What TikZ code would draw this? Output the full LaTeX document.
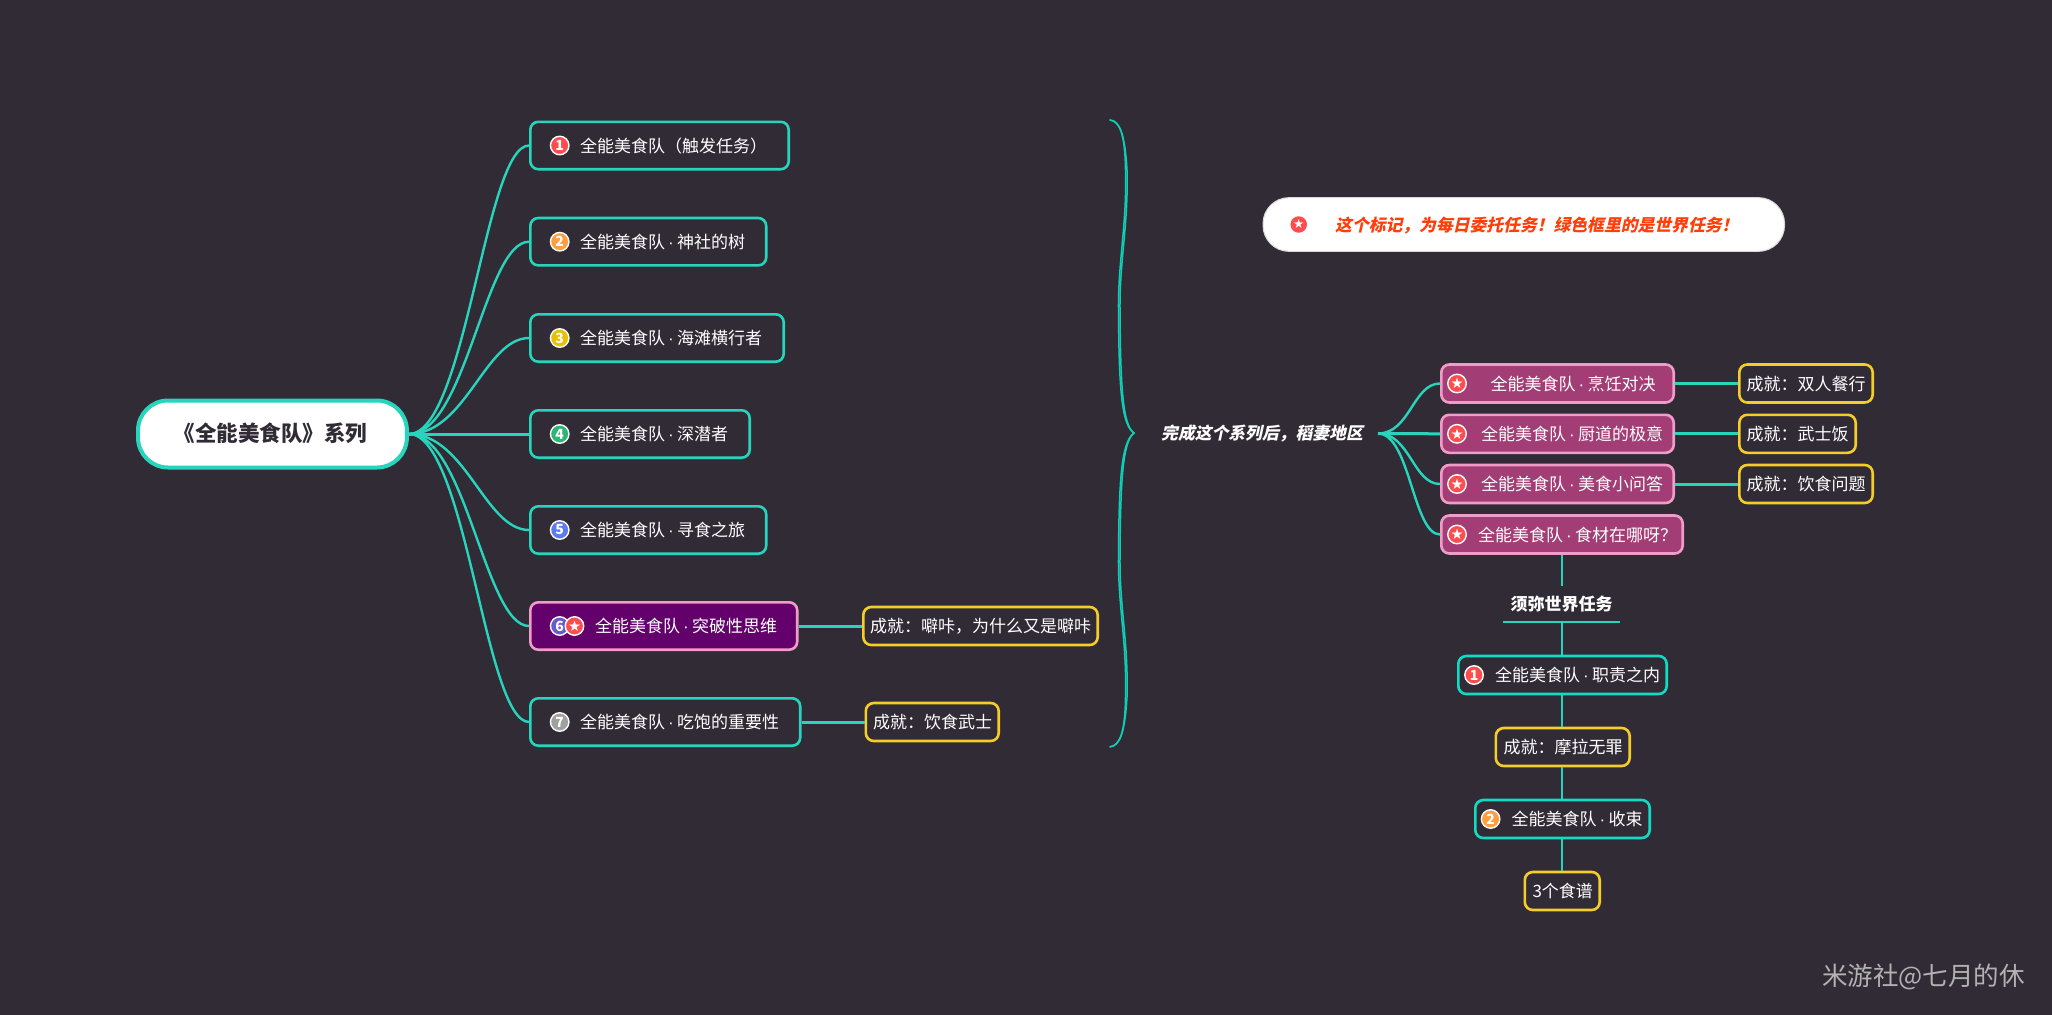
\documentclass[tikz,border=0pt]{standalone}
\usepackage{fontspec}
\usetikzlibrary{calc}
\setmainfont{Noto Sans CJK SC}
\newfontfamily\slantfont[FakeSlant=0.22]{Noto Sans CJK SC}
\newfontfamily\symfont{DejaVu Sans}
\newfontfamily\dotfont{Liberation Sans}
\newcommand\md{\makebox[12bp][c]{\dotfont ·}}
\definecolor{bgc}{RGB}{49,43,54}
\definecolor{teal1}{RGB}{40,212,188}
\definecolor{teal2}{RGB}{14,220,196}
\definecolor{teal3}{RGB}{16,205,180}
\definecolor{gold}{RGB}{245,205,42}
\definecolor{pinkb}{RGB}{240,156,200}
\definecolor{purp}{RGB}{100,0,108}
\definecolor{rose}{RGB}{163,61,117}
\definecolor{darkt}{RGB}{49,43,54}
\definecolor{c1}{RGB}{255,77,79}
\definecolor{c2}{RGB}{255,158,64}
\definecolor{c3}{RGB}{232,192,0}
\definecolor{c4}{RGB}{43,182,115}
\definecolor{c5}{RGB}{91,124,240}
\definecolor{c6}{RGB}{106,90,205}
\definecolor{c7}{RGB}{160,160,160}
\tikzset{
 mbase/.style={rectangle,rounded corners=8bp,line width=2.6bp,inner sep=0pt,text=white,
   font=\fontsize{17bp}{20bp}\selectfont,text height=15bp,text depth=2bp,anchor=west},
 tealbox/.style={mbase,draw=teal1,minimum height=47.4bp},
 tealbig/.style={mbase,draw=teal2,minimum height=38bp},
 goldbox/.style={mbase,draw=gold,minimum height=38bp},
 purpbox/.style={mbase,draw=pinkb,fill=purp,minimum height=47.4bp},
 rosebox/.style={mbase,draw=pinkb,fill=rose,minimum height=38bp},
 rootbox/.style={mbase,draw=teal1,fill=white,text=darkt,line width=4bp,rounded corners=30bp,minimum height=67bp,
   font=\fontsize{21.5bp}{24bp}\selectfont\bfseries,text height=18.5bp,text depth=3bp},
 notebox/.style={mbase,draw=white!85!black,line width=1bp,fill=white,text={rgb,255:red,255;green,62;blue,10},rounded corners=26bp,minimum height=53.7bp,
   font=\fontsize{16.8bp}{20bp}\slantfont\bfseries},
 numic/.style={circle,draw=white,line width=1.4bp,minimum size=18.5bp,inner sep=0pt,text=white,
   font=\fontsize{14bp}{14bp}\selectfont\bfseries},
 staric/.style={circle,draw=white,line width=1.4bp,fill=c1,minimum size=18.5bp,inner sep=0pt,text=white,
   font=\fontsize{14.5bp}{14.5bp}\symfont},
 lnk/.style={draw=teal1,line width=2.4bp},
 lnkb/.style={draw=teal1,line width=3bp},
 lnkv/.style={draw=teal1,line width=2.2bp},
 strand/.style={draw=teal3,line width=1.5bp,line cap=round},
 heading/.style={text=white,inner sep=0pt,font=\fontsize{17bp}{20bp}\selectfont\bfseries},
}
% #1 style, #2 name, #3 left, #4 right, #5 centre y, #6 text left, #7 text (edges given as outer edges)
\newcommand\mapbox[7]{%
  \pgfmathsetmacro\mw{#4-#3-2.6}\pgfmathsetmacro\mp{#6-#3-1.3}%
  \node[#1,minimum width=\mw bp] (#2) at (#3,#5) {\makebox[\mw bp][l]{\hspace{\mp bp}#7}};}
\begin{document}
\begin{tikzpicture}[x=1bp,y=-1bp]
\useasboundingbox[fill=bgc] (0,0) rectangle (2052,1015);

% brace
\foreach \d in {0,1.5}{
 \draw[strand] (1110,120) .. controls (1120,121) and (1125,135) .. ({1125.5+\d},170)
   .. controls ({1127+\d},225) and ({1118+\d},260) .. ({1118.5+\d},310)
   .. controls ({1119+\d},385) and ({1121+\d},425) .. (1134,433);
 \draw[strand] (1110,746.8) .. controls (1120,745.8) and (1125,732) .. ({1125.5+\d},697)
   .. controls ({1127+\d},642) and ({1118+\d},607) .. ({1118.5+\d},557)
   .. controls ({1119+\d},482) and ({1121+\d},442) .. (1134,433);
}

% root
\mapbox{rootbox}{root}{136}{407.5}{434}{173}{《全能美食队》系列}
% left column
\mapbox{tealbox}{b1}{529}{790}{145.5}{580}{全能美食队（触发任务）}
\mapbox{tealbox}{b2}{529}{767.5}{241.7}{580}{全能美食队\md 神社的树}
\mapbox{tealbox}{b3}{529}{785}{338}{580}{全能美食队\md 海滩横行者}
\mapbox{tealbox}{b4}{529}{751}{434}{580}{全能美食队\md 深潜者}
\mapbox{tealbox}{b5}{529}{767.5}{530}{580}{全能美食队\md 寻食之旅}
\mapbox{purpbox}{b6}{529}{798.5}{626}{595}{全能美食队\md 突破性思维}
\mapbox{tealbox}{b7}{529}{801.5}{722}{580}{全能美食队\md 吃饱的重要性}
\mapbox{goldbox}{a6}{862}{1099}{626}{870}{成就：噼咔，为什么又是噼咔}
\mapbox{goldbox}{a7}{864.5}{1000}{722}{873}{成就：饮食武士}

\foreach \t in {b1,b2,b3,b5,b6,b7}{
 \path[lnk] (root.east) .. controls +(57,0) and ($(\t.west)+(-44,0)$) .. (\t.west);
}
\draw[lnkb] (root.east) -- (b4.west);
\draw[lnkb] (b6.east) -- (a6.west);
\draw[lnkb] (b7.east) -- (a7.west);

% note
\mapbox{notebox}{note}{1262.5}{1786.6}{224.5}{1336}{这个标记，为每日委托任务！绿色框里的是世界任务！}
\node[circle,fill=c1,minimum size=16.5bp,inner sep=0pt,text=white,font=\fontsize{12.5bp}{12.5bp}\symfont] (noteic) at (1298.7,224.5) {★};

% centre label
\node[heading,anchor=west,font=\fontsize{16.8bp}{20bp}\slantfont\bfseries] (hubl) at (1161,433) {完成这个系列后，稻妻地区};
\coordinate (hub) at (1378,433.5);

% right column
\mapbox{rosebox}{r1}{1440}{1675}{383.5}{1490.5}{全能美食队\md 烹饪对决}
\mapbox{rosebox}{r2}{1440}{1675}{433.8}{1481}{全能美食队\md 厨道的极意}
\mapbox{rosebox}{r3}{1440}{1675}{484}{1481}{全能美食队\md 美食小问答}
\mapbox{rosebox}{r4}{1440}{1684}{534.5}{1478}{全能美食队\md 食材在哪呀？}
\mapbox{goldbox}{g1}{1738}{1874}{383.5}{1746.5}{成就：双人餐行}
\mapbox{goldbox}{g2}{1738}{1857}{433.8}{1746.5}{成就：武士饭}
\mapbox{goldbox}{g3}{1738}{1874}{484}{1746.5}{成就：饮食问题}

\foreach \t in {r1,r3,r4}{
 \path[lnk] (hub) .. controls +(32,0) and ($(\t.west)+(-27,0)$) .. (\t.west);
}
\draw[lnkb] (hub) -- (r2.west);
\draw[lnkb] (r1.east) -- (g1.west);
\draw[lnkb] (r2.east) -- (g2.west);
\draw[lnkb] (r3.east) -- (g3.west);

% lower column
\node[heading] (world) at (1561.7,604) {须弥世界任务};
\coordinate (wtop) at (1561.7,585.7);
\coordinate (wbot) at (1561.7,622);
\coordinate (wl) at (1503,622);
\coordinate (wr) at (1620,622);
\draw[draw=teal1,line width=1.4bp] (wl) -- (wr);
\mapbox{tealbig}{m1}{1457}{1668}{675}{1495}{全能美食队\md 职责之内}
\mapbox{goldbox}{m1a}{1494.5}{1631}{747}{1503.5}{成就：摩拉无罪}
\mapbox{tealbig}{m2}{1474}{1651}{819}{1511.5}{全能美食队\md 收束}
\mapbox{goldbox}{m2a}{1523.5}{1601}{891}{1532.5}{3个食谱}

\coordinate (r4b) at (r4.south -| wtop);
\coordinate (m1t) at (m1.north -| wtop);
\coordinate (m1b) at (m1.south -| wtop);
\coordinate (m1at) at (m1a.north -| wtop);
\coordinate (m1ab) at (m1a.south -| wtop);
\coordinate (m2t) at (m2.north -| wtop);
\coordinate (m2b) at (m2.south -| wtop);
\coordinate (m2at) at (m2a.north -| wtop);
\draw[lnkv] (r4b) -- (wtop);
\draw[lnkv] (wbot) -- (m1t);
\draw[lnkv] (m1b) -- (m1at);
\draw[lnkv] (m1ab) -- (m2t);
\draw[lnkv] (m2b) -- (m2at);

% icons
\node[numic,fill=c1] (i1) at (559.7,145.5) {1};
\node[numic,fill=c2] (i2) at (559.7,241.7) {2};
\node[numic,fill=c3] (i3) at (559.7,338) {3};
\node[numic,fill=c4] (i4) at (559.7,434) {4};
\node[numic,fill=c5] (i5) at (559.7,530) {5};
\node[numic,fill=c6] (i6) at (559.7,626) {6};
\node[staric] (s6) at (574.5,626) {★};
\node[numic,fill=c7] (i7) at (559.7,722) {7};
\node[staric] (s1) at (1457,383.5) {★};
\node[staric] (s2) at (1457,433.8) {★};
\node[staric] (s3) at (1457,484) {★};
\node[staric] (s4) at (1457,534.5) {★};
\node[numic,fill=c1] (i8) at (1474,675) {1};
\node[numic,fill=c2] (i9) at (1490.6,819) {2};

% watermark
\node[anchor=west,inner sep=0pt,text={rgb,255:red,178;green,178;blue,178},font=\fontsize{25.5bp}{30bp}\selectfont] (wm) at (1822,977) {米游社@七月的休};
\end{tikzpicture}
\end{document}
